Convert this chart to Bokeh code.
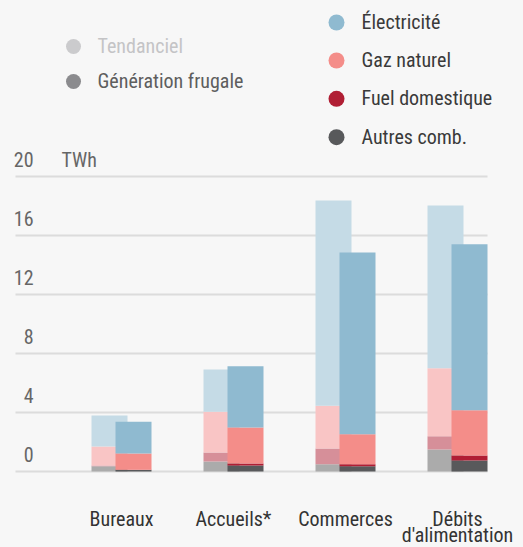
import numpy as np
from bokeh.plotting import figure
from bokeh.models import ColumnDataSource, Range1d
from bokeh.core.properties import value
from bokeh.transform import dodge
from bokeh.embed import file_html
from bokeh.resources import INLINE

# ---------------- data ----------------
categories = ["Bureaux", "Accueils*", "Commerces", "Débits\nd'alimentation"]
energies = ["Autres comb.", "Fuel domestique", "Gaz naturel", "Électricité"]  # bottom -> top

# Scénario tendanciel (TWh)
tend_autres = [0.35, 0.68, 0.50, 1.49]
tend_fuel = [0.05, 0.61, 1.06, 0.90]
tend_gaz = [1.30, 2.76, 2.89, 4.61]
tend_elec = [2.10, 2.87, 13.92, 11.04]

# Génération frugale (TWh)
frug_autres = [0.10, 0.41, 0.36, 0.75]
frug_fuel = [0.02, 0.14, 0.14, 0.34]
frug_gaz = [1.10, 2.44, 2.03, 3.07]
frug_elec = [2.15, 4.14, 12.32, 11.24]

y_ticks = [0, 4, 8, 12, 16, 20]
y_tick_labels = ["0", "4", "8", "12", "16", "20"]
unit_label = "TWh"
scenarios = ["Tendanciel", "Génération frugale"]

# ---------------- styles ----------------
FONT = "Roboto Condensed, Liberation Sans Narrow, DejaVu Sans Condensed, sans-serif"
BG = "#F7F7F7"
tend_colors = ["#ABABAB", "#D68F99", "#F9C5C5", "#C5DBE6"]
frug_colors = ["#58595B", "#B01E34", "#F48D89", "#8FBAD0"]
scen_dot_colors = ["#CBCBCD", "#8B8B8E"]
scen_text_colors = ["#C4C4C6", "#5E5E5E"]

W, H = 523, 547
PX_PER_CAT = 112.0     # pixels between categories
PX_PER_TWH = 14.75     # pixels per TWh
CAT0_PX = 121          # x pixel of first category
ZERO_PX = 471          # y pixel (from top) of value 0
TDY = 8                # text vertical correction (px)

def fx(px):  # pixel x -> data x
    return (px - CAT0_PX) / PX_PER_CAT

def fy(py):  # pixel y -> data y
    return (ZERO_PX - py) / PX_PER_TWH

def ty(py):  # text baseline pixel -> data y
    return fy(py - TDY)

p = figure(width=W, height=H, output_backend="svg", toolbar_location=None,
           x_range=Range1d(fx(0), fx(W)), y_range=Range1d(fy(H), fy(0)),
           min_border=0, background_fill_color=BG, border_fill_color=BG,
           outline_line_color=None)
p.axis.visible = False
p.grid.visible = False

# grid lines
ticks = np.array(y_ticks, dtype=float)
p.segment(x0=[fx(15)] * len(ticks), x1=[fx(487)] * len(ticks), y0=ticks, y1=ticks,
          line_color="#DCDCDC", line_width=2)

# tick labels (baseline 9px above the grid line)
tick_px = ZERO_PX - ticks * PX_PER_TWH
p.text(x=[fx(33)] * len(ticks), y=[ty(v - 9) for v in tick_px], text=y_tick_labels,
       text_font=value(FONT), text_font_size="20px", text_color="#666666",
       text_align="right", text_baseline="alphabetic")
p.text(x=[fx(61)], y=[ty(tick_px[-1] - 9)], text=[unit_label],
       text_font=value(FONT), text_font_size="20px", text_color="#666666",
       text_align="left", text_baseline="alphabetic")

# bars
idx = list(range(len(categories)))
src = ColumnDataSource(dict(
    x=idx,
    t0=tend_autres, t1=tend_fuel, t2=tend_gaz, t3=tend_elec,
    f0=frug_autres, f1=frug_fuel, f2=frug_gaz, f3=frug_elec,
))
BAR_W = 36 / PX_PER_CAT
OFF = 12 / PX_PER_CAT
p.vbar_stack(["t0", "t1", "t2", "t3"], x=dodge("x", -OFF), width=BAR_W, source=src,
             color=tend_colors, line_color=None)
p.vbar_stack(["f0", "f1", "f2", "f3"], x=dodge("x", OFF), width=BAR_W, source=src,
             color=frug_colors, line_color=None)

# category labels (possibly two lines)
lx, ly, lt = [], [], []
for i, c in enumerate(categories):
    for j, line in enumerate(c.split("\n")):
        lx.append(i)
        ly.append(ty(526 + 16.5 * j))
        lt.append(line)
p.text(x=lx, y=ly, text=lt, text_font=value(FONT), text_font_size="20px",
       text_color="#333333", text_align="center", text_baseline="alphabetic")

# legend: scenarios (left)
sy = [46, 81]
p.scatter(x=[fx(73)] * 2, y=[fy(v) for v in sy], size=15, marker="circle",
          color=scen_dot_colors, line_color=None)
for k in range(2):
    p.text(x=[fx(97)], y=[ty(sy[k] + 7.5)], text=[scenarios[k]], text_font=value(FONT),
           text_font_size="20px", text_color=scen_text_colors[k],
           text_align="left", text_baseline="alphabetic")

# legend: energies (right), top -> bottom
ey = [22, 60, 98.3, 136.7]
e_names = energies[::-1]
e_cols = frug_colors[::-1]
p.scatter(x=[fx(336)] * 4, y=[fy(v) for v in ey], size=16, marker="circle",
          color=e_cols, line_color=None)
p.text(x=[fx(361)] * 4, y=[ty(v + 7.5) for v in ey], text=e_names, text_font=value(FONT),
       text_font_size="20px", text_color="#3A3A3A", text_align="left",
       text_baseline="alphabetic")

html = file_html(p, INLINE).replace(
    "<head>", "<head><style>html,body{background:#F7F7F7;}</style>", 1)
open("out.html", "w").write(html)
